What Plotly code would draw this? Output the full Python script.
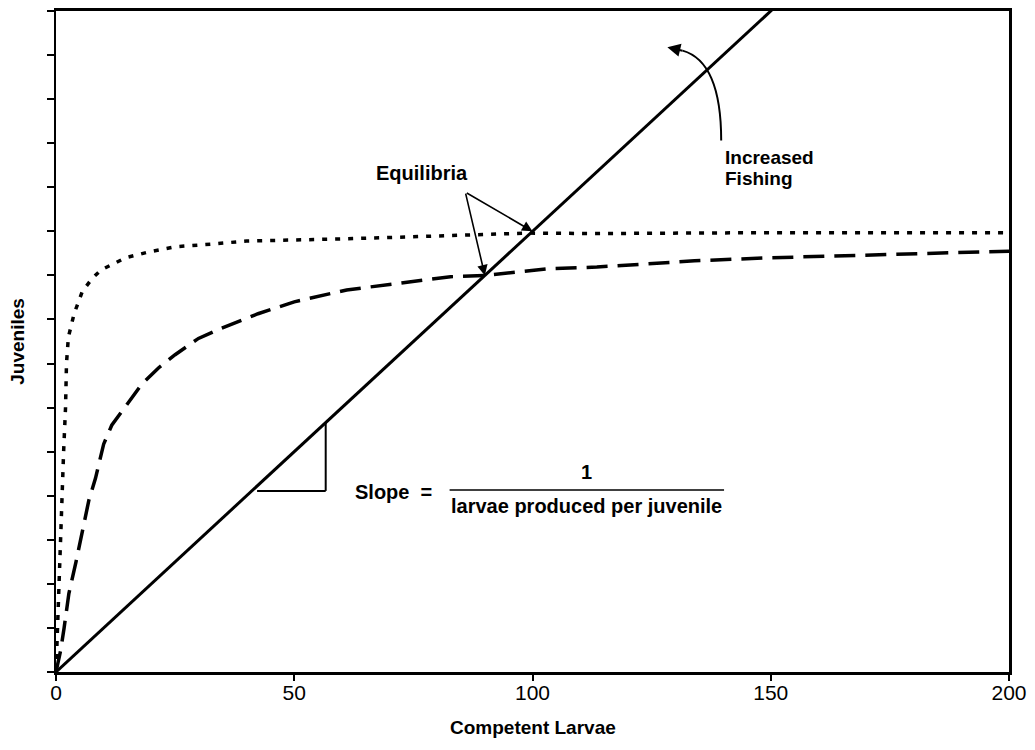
import plotly.graph_objects as go

# ---- data ----
larvae_line = [0, 200]
juveniles_line = [0, 20]          # slope = 1 / larvae produced per juvenile (10)

dotted_x = [0, 0.3, 0.6, 0.9, 1.3, 1.6, 2.0, 2.2, 2.6, 3.8, 5.5, 7.5, 9.4, 14.6, 19.4, 25, 32.6, 40, 61, 80, 99, 113, 150, 200]
dotted_y = [0, 1.0, 2.0, 3.0, 4.0, 5.0, 6.0, 7.0, 7.6, 8.13, 8.63, 8.92, 9.12, 9.4, 9.53, 9.65, 9.71, 9.78, 9.83, 9.9, 9.96, 9.95, 9.97, 9.97]

dashed_x = [0, 1.0, 1.7, 2.7, 4.2, 6.9, 8.3, 10.0, 11.7, 15.3, 18, 21.5, 25, 29.9, 34.7, 42.4, 50, 61, 70, 82.8, 90, 103, 113.5, 134, 150, 179.7, 188, 200]
dashed_y = [0, 0.5, 1.0, 1.78, 2.5, 3.9, 4.4, 5.17, 5.6, 6.14, 6.53, 6.9, 7.2, 7.57, 7.8, 8.13, 8.4, 8.67, 8.8, 8.97, 9.0, 9.15, 9.19, 9.33, 9.4, 9.49, 9.51, 9.55]

x_ticks = [0, 50, 100, 150, 200]
y_ticks = list(range(0, 16))

equilibria = [(90, 9), (100, 10)]

FONT = "Liberation Sans, Arial, Helvetica, sans-serif"

fig = go.Figure()
fig.add_trace(go.Scatter(x=dotted_x, y=dotted_y, mode="lines",
                         line=dict(color="black", width=3.5, dash="5px,8px")))
fig.add_trace(go.Scatter(x=dashed_x, y=dashed_y, mode="lines",
                         line=dict(color="black", width=3.5, dash="21px,10px")))
fig.add_trace(go.Scatter(x=larvae_line, y=juveniles_line, mode="lines",
                         line=dict(color="black", width=3)))

# slope triangle
fig.add_shape(type="line", x0=42.2, y0=4.11, x1=56.6, y1=4.11, line=dict(color="black", width=2))
fig.add_shape(type="line", x0=56.6, y0=4.11, x1=56.6, y1=5.66, line=dict(color="black", width=2))
# fraction bar
fig.add_shape(type="line", x0=82.6, y0=4.13, x1=140.2, y1=4.13, line=dict(color="black", width=1.5))

# curved "increased fishing" arrow
fig.add_shape(type="path", path="M 139.6,12.06 Q 139.6,13.85 131.5,14.1",
              line=dict(color="black", width=2))

ann = []
for (ex, ey) in equilibria:
    ann.append(dict(x=ex, y=ey, ax=85.9, ay=10.89, xref="x", yref="y", axref="x", ayref="y",
                    text="", showarrow=True, arrowhead=2, arrowsize=1.3, arrowwidth=1.6,
                    arrowcolor="black"))
ann.append(dict(x=128.3, y=14.18, ax=131.8, ay=14.09, xref="x", yref="y", axref="x", ayref="y",
                text="", showarrow=True, arrowhead=2, arrowsize=1.3, arrowwidth=2,
                arrowcolor="black"))
ann.append(dict(x=76.9, y=11.32, xref="x", yref="y", text="<b>Equilibria</b>", showarrow=False,
                xanchor="center", yanchor="middle",
                font=dict(family=FONT, size=20, color="black")))
ann.append(dict(x=140.0, y=11.68, xref="x", yref="y", xanchor="left", yanchor="middle",
                text="<b>Increased</b>", showarrow=False,
                font=dict(family=FONT, size=19, color="black")))
ann.append(dict(x=140.0, y=11.2, xref="x", yref="y", xanchor="left", yanchor="middle",
                text="<b>Fishing</b>", showarrow=False,
                font=dict(family=FONT, size=19, color="black")))
ann.append(dict(x=62.3, y=4.09, xref="x", yref="y", xanchor="left", yanchor="middle",
                text="<b>Slope  =</b>",
                showarrow=False, font=dict(family=FONT, size=20, color="black")))
ann.append(dict(x=111.4, y=4.54, xref="x", yref="y", yanchor="middle", text="<b>1</b>",
                showarrow=False, font=dict(family=FONT, size=20, color="black")))
ann.append(dict(x=111.4, y=3.76, xref="x", yref="y", yanchor="middle",
                text="<b>larvae produced per juvenile</b>",
                showarrow=False, font=dict(family=FONT, size=20, color="black")))
ann.append(dict(x=0.5, y=-0.0843, xref="paper", yref="paper", text="<b>Competent Larvae</b>",
                xanchor="center", yanchor="middle",
                showarrow=False, font=dict(family=FONT, size=19, color="black")))
ann.append(dict(x=-0.0407, y=0.5, xref="paper", yref="paper", text="<b>Juveniles</b>", textangle=-90,
                xanchor="center", yanchor="middle",
                showarrow=False, font=dict(family=FONT, size=19, color="black")))

fig.update_layout(
    width=1035, height=750,
    margin=dict(l=56, r=21, t=8, b=78),
    paper_bgcolor="white", plot_bgcolor="white",
    showlegend=False,
    annotations=ann,
    font=dict(family=FONT, color="black"),
)
fig.update_xaxes(range=[0, 200], tickvals=x_ticks, ticks="outside", ticklen=6, tickwidth=2,
                 tickcolor="black", showline=True, linecolor="black", linewidth=3, mirror=True,
                 showgrid=False, zeroline=False, ticklabelstandoff=-6,
                 tickfont=dict(family=FONT, size=21, color="black"))
fig.update_yaxes(range=[0, 15], tickvals=y_ticks, ticks="outside", ticklen=7, tickwidth=2,
                 tickcolor="black", showticklabels=False, showline=True, linecolor="black",
                 linewidth=2.5, mirror=True, showgrid=False, zeroline=False)

# remove the default page margin so the 1035x750 figure fills the window exactly
fig.write_html("out.html",
               config={"displayModeBar": False, "staticPlot": True},
               post_script="document.body.style.margin='0';document.body.style.overflow='hidden';")
